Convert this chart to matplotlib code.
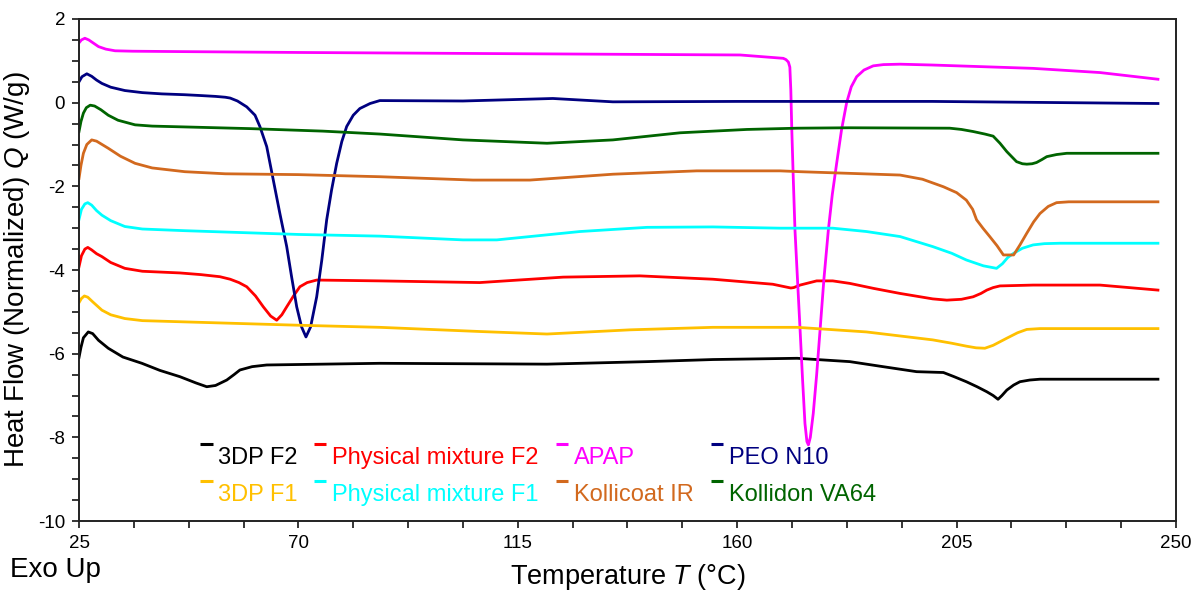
import matplotlib
matplotlib.use("Agg")
import matplotlib.pyplot as plt
from matplotlib.ticker import MultipleLocator, FixedLocator

plt.rcParams['font.family'] = ['Liberation Sans', 'DejaVu Sans']
plt.rcParams['mathtext.fontset'] = 'custom'
plt.rcParams['mathtext.rm'] = 'Liberation Sans'
plt.rcParams['mathtext.it'] = 'Liberation Sans:italic'
plt.rcParams['axes.unicode_minus'] = False

# === DSC curves (T in degC, Q in W/g) ===
apap_T = [25.0, 25.5, 26.2, 27.0, 28.0, 29.0, 30.5, 32.4, 36, 46.7, 70, 100, 130, 160.6, 169.45,
          170.0, 170.5, 170.8, 171.0, 171.2, 171.5, 171.85, 172.4, 172.9, 173.4, 173.9, 174.3,
          174.6, 175.0, 175.6, 176.3, 177.0, 177.8, 178.7, 179.5, 180.4, 181.4, 182.45, 183.4,
          184.5, 186, 187.9, 190, 193.4, 200, 220.7, 234.4, 246.3]
apap_Q = [1.43, 1.50, 1.54, 1.50, 1.42, 1.34, 1.28, 1.24, 1.23, 1.22, 1.20, 1.18, 1.16, 1.14, 1.06,
          1.03, 0.97, 0.85, 0.30, -0.65, -1.80, -3.04, -4.30, -5.43, -6.60, -7.67, -8.10,
          -8.18, -8.00, -7.43, -6.50, -5.43, -4.20, -3.04, -2.20, -1.45, -0.65, 0.0, 0.38,
          0.62, 0.78, 0.88, 0.91, 0.92, 0.90, 0.82, 0.72, 0.56]

peo_T = [25.0, 25.6, 26.6, 27.6, 28.6, 29.7, 31.5, 34.4, 38, 42, 46.7, 50, 53, 55, 56.0, 57.5,
         59.4, 61.1, 62.1, 63.5, 64.85, 66.2, 67.6, 68.6, 69.65, 70.65, 71.55, 72.5, 73.75, 74.8,
         75.8, 76.8, 77.85, 78.9, 79.9, 81.25, 82.6, 84.7, 86.7, 103.75, 122.2, 134.5, 160, 200, 246.3]
peo_Q = [0.50, 0.62, 0.69, 0.63, 0.54, 0.46, 0.37, 0.29, 0.24, 0.21, 0.19, 0.17, 0.15, 0.13, 0.11,
         0.04, -0.10, -0.30, -0.57, -1.05, -1.85, -2.65, -3.44, -4.16, -4.88, -5.36, -5.60, -5.36,
         -4.64, -3.76, -2.80, -2.09, -1.45, -0.93, -0.57, -0.30, -0.14, -0.02, 0.05, 0.04, 0.10,
         0.02, 0.03, 0.03, -0.02]

va64_T = [25.0, 25.4, 25.9, 26.5, 27.3, 28.2, 29.5, 31.0, 33, 36.5, 40, 46.7, 60, 75, 86.7, 103.75,
          121.0, 134.5, 148.3, 162.0, 172.3, 183, 203.6, 206, 208.4, 210.8, 212.5, 213.9, 215.3,
          217.3, 218.5, 219.4, 220.5, 221.4, 222.5, 223.5, 225.5, 227.6, 246.3]
va64_Q = [-0.69, -0.45, -0.25, -0.12, -0.06, -0.08, -0.17, -0.30, -0.42, -0.53, -0.56, -0.58, -0.62,
          -0.68, -0.75, -0.89, -0.97, -0.89, -0.72, -0.64, -0.61, -0.60, -0.61, -0.64, -0.69, -0.75,
          -0.80, -0.97, -1.17, -1.41, -1.46, -1.47, -1.46, -1.43, -1.36, -1.29, -1.24, -1.21, -1.21]

kir_T = [25.0, 25.4, 25.9, 26.6, 27.6, 28.6, 31.0, 33.5, 36.5, 40, 46.7, 55, 70, 86.7, 105.8, 117.5,
         134.5, 151.7, 168.8, 172.9, 193.4, 198, 202.3, 205, 207.0, 208.3, 209.1, 210.4, 211.8,
         213.3, 214.6, 216.7, 218.0, 219.4, 220.8, 222.1, 223.8, 225.5, 228, 246.3]
kir_Q = [-1.81, -1.50, -1.21, -1.00, -0.89, -0.92, -1.09, -1.28, -1.45, -1.56, -1.65, -1.70, -1.72,
         -1.77, -1.85, -1.85, -1.71, -1.63, -1.63, -1.65, -1.73, -1.83, -2.01, -2.15, -2.33, -2.55,
         -2.80, -3.00, -3.20, -3.42, -3.64, -3.64, -3.40, -3.12, -2.85, -2.65, -2.48, -2.39, -2.37,
         -2.37]

pmf1_T = [25.0, 25.5, 26.2, 26.8, 27.6, 28.6, 29.7, 31.5, 34.4, 38, 46.7, 70, 86.7, 103.75, 110.7,
          127.75, 141.5, 155.0, 168.8, 179.6, 186.5, 193.4, 200.1, 204, 207.0, 210.5, 213.2,
          214.4, 215.5, 216.7, 218.5, 220.7, 223, 226.2, 246.3]
pmf1_Q = [-2.79, -2.55, -2.42, -2.39, -2.45, -2.58, -2.69, -2.82, -2.96, -3.02, -3.06, -3.15, -3.19,
          -3.28, -3.28, -3.08, -2.98, -2.97, -3.00, -3.00, -3.08, -3.20, -3.44, -3.60, -3.76, -3.90,
          -3.96, -3.85, -3.70, -3.60, -3.48, -3.40, -3.37, -3.36, -3.36]

pmf2_T = [25.0, 25.5, 26.2, 26.8, 27.6, 28.6, 29.7, 31.5, 34.4, 38, 45.7, 50, 53.9, 56, 57.8, 59.4,
          61.2, 62.8, 64.3, 65.55, 66.6, 67.6, 69, 70.3, 71.8, 73.75, 86.7, 107.2, 124.3, 140.05,
          155.0, 167.3, 171.0, 171.6, 172.9, 176.3, 179.6, 183.1, 188, 193.4, 200.1, 203, 206,
          208.4, 210, 211.2, 212.5, 213.9, 220.7, 234.4, 246.3]
pmf2_Q = [-3.92, -3.66, -3.50, -3.46, -3.52, -3.61, -3.68, -3.82, -3.96, -4.03, -4.07, -4.11, -4.16,
          -4.22, -4.30, -4.40, -4.62, -4.88, -5.10, -5.20, -5.07, -4.88, -4.62, -4.40, -4.30, -4.24,
          -4.26, -4.30, -4.17, -4.14, -4.22, -4.34, -4.43, -4.42, -4.36, -4.26, -4.26, -4.32, -4.44,
          -4.56, -4.69, -4.72, -4.70, -4.64, -4.56, -4.48, -4.42, -4.38, -4.36, -4.36, -4.48]

f1_T = [25.0, 25.5, 26.1, 26.8, 27.8, 29.7, 31.5, 34.4, 38, 46.7, 70, 86.7, 107.2, 121.0, 138.0,
        155.0, 172.3, 186.5, 200.1, 204, 207.0, 209, 210.8, 212.5, 215.3, 217.5, 219.4, 222.1, 246.3]
f1_Q = [-4.78, -4.68, -4.62, -4.65, -4.76, -4.96, -5.07, -5.16, -5.21, -5.24, -5.32, -5.37, -5.47,
        -5.53, -5.43, -5.37, -5.37, -5.48, -5.67, -5.75, -5.82, -5.86, -5.87, -5.80, -5.63, -5.50,
        -5.42, -5.40, -5.40]

f2_T = [25.0, 25.4, 25.9, 26.9, 27.8, 29.0, 31.0, 34, 37.9, 41.6, 45.7, 49, 51.2, 53, 55.3, 56.8,
        58.0, 60.5, 63.5, 86.7, 121.0, 141.5, 155.0, 172.3, 183.1, 189.9, 196.8, 202.3, 204.5,
        207.0, 209.2, 211.2, 212.5, 213.5, 214.3, 215.3, 216.7, 218.0, 220, 222.1, 246.3]
f2_Q = [-6.09, -5.85, -5.62, -5.48, -5.52, -5.68, -5.87, -6.08, -6.23, -6.40, -6.55, -6.70, -6.79,
        -6.76, -6.63, -6.50, -6.39, -6.31, -6.27, -6.23, -6.25, -6.19, -6.14, -6.11, -6.19, -6.31,
        -6.43, -6.45, -6.55, -6.67, -6.79, -6.91, -7.00, -7.09, -7.00, -6.87, -6.75, -6.67, -6.63,
        -6.61, -6.61]

# legend order: row 1 then row 2
labels = ['3DP F2', 'Physical mixture F2', 'APAP', 'PEO N10',
          '3DP F1', 'Physical mixture F1', 'Kollicoat IR', 'Kollidon VA64']
colors = ['#000000', '#FF0000', '#FF00FF', '#000080',
          '#FFC000', '#00FFFF', '#D2691E', '#006400']
series = [(f2_T, f2_Q), (pmf2_T, pmf2_Q), (apap_T, apap_Q), (peo_T, peo_Q),
          (f1_T, f1_Q), (pmf1_T, pmf1_Q), (kir_T, kir_Q), (va64_T, va64_Q)]

fig = plt.figure(figsize=(11.99, 5.90), dpi=100)
ax = fig.add_axes([0.0659, 0.1169, 0.9149, 0.8509])

for (T, Q), c in zip(series, colors):
    ax.plot(T, Q, color=c, lw=2.0, solid_joinstyle='round')

ax.set_xlim(25, 250)
ax.set_ylim(-10, 2)
ax.xaxis.set_major_locator(FixedLocator([25, 70, 115, 160, 205, 250]))
ax.xaxis.set_minor_locator(FixedLocator([25 + 11.25 * k for k in range(21)]))
ax.yaxis.set_major_locator(MultipleLocator(2))
ax.yaxis.set_minor_locator(MultipleLocator(0.5))
ax.tick_params(which='both', direction='out', length=5, width=1.1, labelsize=13.5, pad=5)
ax.tick_params(top=False, right=False)
for s in ax.spines.values():
    s.set_linewidth(1.4)
    s.set_color('#222222')

ax.set_xlabel('Temperature $T$ (°C)', fontsize=19.5, labelpad=7)
ax.set_ylabel('Heat Flow (Normalized) $Q$ (W/g)', fontsize=20, labelpad=4)
fig.text(10 / 1199, 1 - 570 / 590, 'Exo Up', fontsize=20, va='center', ha='left')

# hand-made legend: small dash top-left of each label
col_x = [0.1267, 0.2306, 0.4512, 0.5925]
row_y = [0.1255, 0.0518]
for i, (lab, c) in enumerate(zip(labels, colors)):
    x0 = col_x[i % 4]
    y0 = row_y[i // 4]
    ax.text(x0, y0, lab, color=c, fontsize=17, transform=ax.transAxes, va='center', ha='left')
    ax.plot([x0 - 0.0165, x0 - 0.0050], [y0 + 0.028, y0 + 0.028], color=c, lw=2.2,
            transform=ax.transAxes, solid_capstyle='butt')

fig.savefig('out.png', dpi=100)
